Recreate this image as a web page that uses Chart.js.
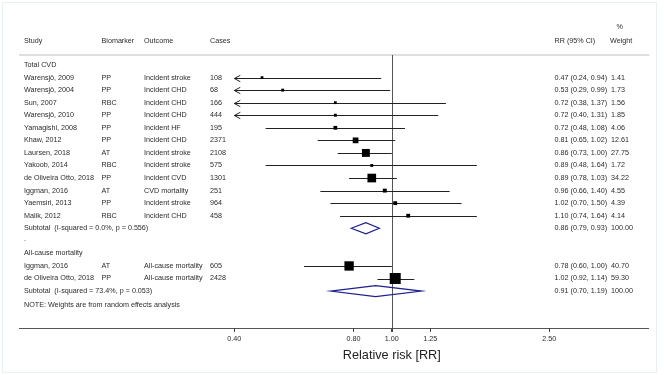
<!DOCTYPE html>
<html>
<head>
<meta charset="utf-8">
<script src="https://cdn.jsdelivr.net/npm/chart.js@4.4.1/dist/chart.umd.min.js"></script>
<style>
  html, body { margin: 0; padding: 0; background: #ffffff; }
  canvas { display: block; }
</style>
</head>
<body>
<canvas id="forest" width="664" height="375"></canvas>
<script>
// Studies (row order as in the figure)
const studies = [
  "Warensjö, 2009", "Warensjö, 2004", "Sun, 2007", "Warensjö, 2010",
  "Yamagishi, 2008", "Khaw, 2012", "Laursen, 2018", "Yakoob, 2014",
  "de Oliveira Otto, 2018", "Iggman, 2016", "Yaemsiri, 2013", "Malik, 2012",
  "Iggman, 2016", "de Oliveira Otto, 2018"
];
const biomarkers = ["PP", "PP", "RBC", "PP", "PP", "PP", "AT", "RBC", "PP", "AT", "PP", "RBC", "AT", "PP"];
const outcomes = [
  "Incident stroke", "Incident CHD", "Incident CHD", "Incident CHD", "Incident HF",
  "Incident CHD", "Incident stroke", "Incident stroke", "Incident CVD", "CVD mortality",
  "Incident stroke", "Incident CHD", "All-cause mortality", "All-cause mortality"
];
const cases = [108, 68, 166, 444, 195, 2371, 2108, 575, 1301, 251, 964, 458, 605, 2428];
const rr = [0.47, 0.53, 0.72, 0.72, 0.72, 0.81, 0.86, 0.89, 0.89, 0.96, 1.02, 1.10, 0.78, 1.02];
const lower = [0.24, 0.29, 0.38, 0.40, 0.48, 0.65, 0.73, 0.48, 0.78, 0.66, 0.70, 0.74, 0.60, 0.92];
const upper = [0.94, 0.99, 1.37, 1.31, 1.08, 1.02, 1.00, 1.64, 1.03, 1.40, 1.50, 1.64, 1.00, 1.14];
const weights = [1.41, 1.73, 1.56, 1.85, 4.06, 12.61, 27.75, 1.72, 34.22, 4.55, 4.39, 4.14, 40.70, 59.30];
const studyRows = [1, 2, 3, 4, 5, 6, 7, 8, 9, 10, 11, 12, 16, 17];

// Subgroups
const groupNames = ["Total CVD", "All-cause mortality"];
const groupRows = [0, 15];
const subtotalLabels = ["Subtotal  (I-squared = 0.0%, p = 0.556)", "Subtotal  (I-squared = 73.4%, p = 0.053)"];
const subtotalRR = [0.86, 0.91];
const subtotalLower = [0.79, 0.70];
const subtotalUpper = [0.93, 1.19];
const subtotalRows = [13, 18];

// Axis
const tickValues = [0.40, 0.80, 1.00, 1.25, 2.50];
const ciMin = 0.40, ciMax = 2.50;

const FONT = "Liberation Sans, Arial, sans-serif";
const TEXT = "#2b2b2b";
const fmt = (v) => v.toFixed(2);

// box side grows with sqrt of weight
function boxSide(w) {
  return 1.275 * Math.sqrt(w) + 1.2;
}

/* ---------------------------------------------------------------
  Plugin: CI lines, diamonds, table text
--------------------------------------------------------------- */
const forestPlugin = {
  id: "forest",
  beforeDatasetsDraw(chart) {
    const { ctx, chartArea, scales } = chart;
    const x = scales.x, y = scales.y;
    ctx.save();

    // header rule
    ctx.strokeStyle = "#d4d4d4";
    ctx.lineWidth = 1.5;
    ctx.beginPath();
    ctx.moveTo(chartArea.left, chartArea.top);
    ctx.lineTo(chartArea.right + 1, chartArea.top);
    ctx.stroke();

    // null line
    const x1 = Math.round(x.getPixelForValue(1)) + 0.5;
    ctx.strokeStyle = "#555555";
    ctx.lineWidth = 1;
    ctx.beginPath();
    ctx.moveTo(x1, chartArea.top);
    ctx.lineTo(x1, chartArea.bottom);
    ctx.stroke();

    // confidence intervals
    ctx.strokeStyle = "#222222";
    rr.forEach((v, i) => {
      const py = Math.round(y.getPixelForValue(studyRows[i])) + 0.5;
      const lo = Math.max(lower[i], ciMin);
      const hi = Math.min(upper[i], ciMax);
      const pl = x.getPixelForValue(lo);
      const ph = x.getPixelForValue(hi);
      ctx.beginPath();
      ctx.moveTo(pl, py);
      ctx.lineTo(ph, py);
      ctx.stroke();
      if (lower[i] <= ciMin) {
        ctx.beginPath();
        ctx.moveTo(pl + 6, py - 3.2);
        ctx.lineTo(pl, py);
        ctx.lineTo(pl + 6, py + 3.2);
        ctx.stroke();
      }
    });

    // subtotal diamonds
    ctx.strokeStyle = "#1f1f8f";
    ctx.lineWidth = 1.2;
    subtotalRR.forEach((v, i) => {
      const py = y.getPixelForValue(subtotalRows[i]);
      const h = y.getPixelForValue(subtotalRows[i] + 0.44) - py;
      const pl = x.getPixelForValue(subtotalLower[i]);
      const pc = x.getPixelForValue(v);
      const ph = x.getPixelForValue(subtotalUpper[i]);
      ctx.beginPath();
      ctx.moveTo(pl, py);
      ctx.lineTo(pc, py - h);
      ctx.lineTo(ph, py);
      ctx.lineTo(pc, py + h);
      ctx.closePath();
      ctx.stroke();
    });
    ctx.restore();
  },
  afterDraw(chart) {
    const { ctx, chartArea, scales } = chart;
    const x = scales.x, y = scales.y;
    ctx.save();

    // faint outer frame
    ctx.strokeStyle = "#e9f0f0";
    ctx.lineWidth = 1;
    ctx.strokeRect(2.5, 2.5, 654, 370);

    ctx.fillStyle = TEXT;
    ctx.font = "7.2px " + FONT;
    ctx.textBaseline = "middle";
    ctx.textAlign = "left";

    const colStudy = 24, colBio = 101.5, colOut = 144, colCases = 210, colRR = 554.5, colW = 611;

    // headers
    const hy = y.getPixelForValue(-1.91);
    ctx.fillText("Study", colStudy, hy);
    ctx.fillText("Biomarker", colBio, hy);
    ctx.fillText("Outcome", colOut, hy);
    ctx.fillText("Cases", colCases, hy);
    ctx.fillText("RR (95% CI)", colRR, hy);
    ctx.fillText("Weight", colW - 1, hy);
    ctx.fillText("%", 616.5, y.getPixelForValue(-3.05));

    groupNames.forEach((g, i) => {
      ctx.fillText(g, colStudy, y.getPixelForValue(groupRows[i]));
    });

    studies.forEach((s, i) => {
      const py = y.getPixelForValue(studyRows[i]);
      ctx.fillText(s, colStudy, py);
      ctx.fillText(biomarkers[i], colBio, py);
      ctx.fillText(outcomes[i], colOut, py);
      ctx.fillText(String(cases[i]), colCases, py);
      ctx.fillText(`${fmt(rr[i])} (${fmt(lower[i])}, ${fmt(upper[i])})`, colRR, py);
      ctx.fillText(fmt(weights[i]), colW, py);
    });

    subtotalLabels.forEach((s, i) => {
      const py = y.getPixelForValue(subtotalRows[i]);
      ctx.fillText(s, colStudy, py);
      ctx.fillText(`${fmt(subtotalRR[i])} (${fmt(subtotalLower[i])}, ${fmt(subtotalUpper[i])})`, colRR, py);
      ctx.fillText("100.00", colW, py);
    });

    ctx.fillText(".", colStudy, y.getPixelForValue(14) - 2);
    ctx.fillText("NOTE: Weights are from random effects analysis", colStudy, y.getPixelForValue(19.13));

    // tick marks below the axis
    ctx.strokeStyle = "#444444";
    ctx.lineWidth = 1;
    tickValues.forEach((v) => {
      const px = Math.round(x.getPixelForValue(v)) + 0.5;
      ctx.beginPath();
      ctx.moveTo(px, chartArea.bottom);
      ctx.lineTo(px, chartArea.bottom + 4);
      ctx.stroke();
    });

    // axis title, centred on the null value
    ctx.textAlign = "center";
    ctx.font = "12.7px " + FONT;
    ctx.fillStyle = "#222222";
    ctx.fillText("Relative risk [RR]", x.getPixelForValue(1), chartArea.bottom + 27);
    ctx.restore();
  },
};

const ctx = document.getElementById("forest").getContext("2d");
new Chart(ctx, {
  type: "scatter",
  data: {
    datasets: [
      {
        label: "RR",
        data: rr.map((v, i) => ({ x: v, y: studyRows[i] })),
        pointStyle: "rect",
        pointRadius: (c) => boxSide(weights[c.dataIndex]) / Math.SQRT2,
        pointHoverRadius: (c) => boxSide(weights[c.dataIndex]) / Math.SQRT2,
        backgroundColor: "#000000",
        borderWidth: 0,
        clip: false,
      },
    ],
  },
  options: {
    responsive: false,
    devicePixelRatio: 1,
    animation: false,
    events: [],
    layout: { padding: { left: 19, right: 15.7, top: 55, bottom: 0 } },
    plugins: {
      legend: { display: false },
      tooltip: { enabled: false },
    },
    scales: {
      x: {
        type: "logarithmic",
        position: "bottom",
        min: 0.1143,
        max: 4.447,
        bounds: "data",
        afterBuildTicks: (s) => {
          s.ticks = tickValues.map((v) => ({ value: v }));
        },
        afterFit: (s) => {
          s.height = 47;
        },
        grid: { drawOnChartArea: false, drawTicks: true, tickLength: 4, color: "#444444" },
        border: { display: true, color: "#555555", width: 1 },
        ticks: {
          callback: (v) => Number(v).toFixed(2),
          font: { family: FONT, size: 7.2 },
          color: TEXT,
          padding: 3,
          autoSkip: false,
          maxRotation: 0,
        },
      },
      y: {
        type: "linear",
        display: false,
        reverse: true,
        min: -0.796,
        max: 20.94,
      },
    },
  },
  plugins: [forestPlugin],
});
</script>
</body>
</html>
